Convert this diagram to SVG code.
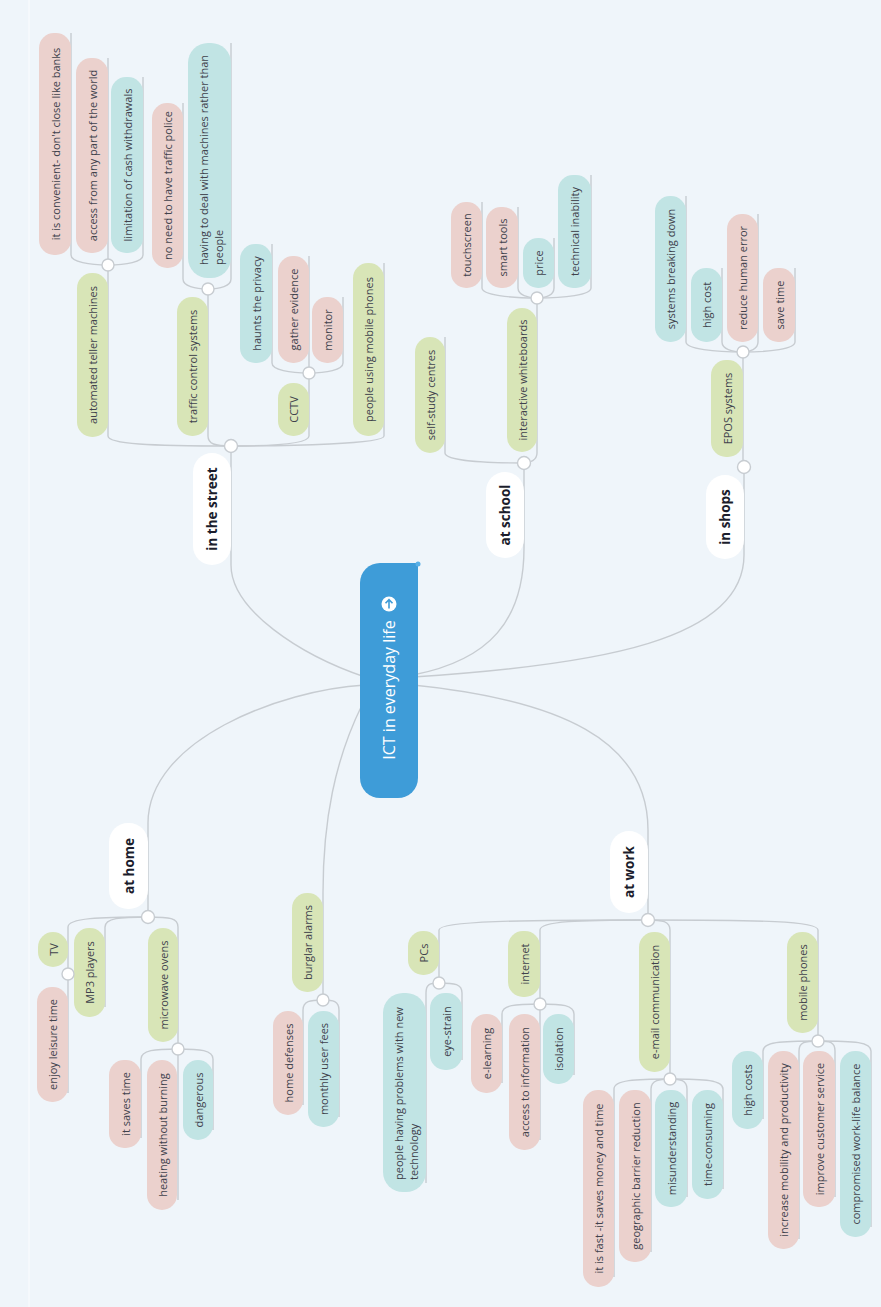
<svg xmlns="http://www.w3.org/2000/svg" width="881" height="1307" viewBox="0 0 881 1307">
<style>
.bg{fill:#eff5fa}
.ln{fill:none;stroke:#c7ccd1;stroke-width:1.4}
.jc{fill:#ffffff;stroke:#c7ccd1;stroke-width:1.4}
.g{fill:#d8e5b7}
.p{fill:#ebd1cd}
.t{fill:#c1e4e4}
.w{fill:#ffffff}
text{font-family:"Open Sans","Liberation Sans",sans-serif;dominant-baseline:central}
.s{font-size:11px;fill:#40424c;text-anchor:middle}
.s2{font-size:11px;fill:#40424c;text-anchor:start}
.m{font-size:13.5px;font-weight:bold;fill:#1b1d2c;text-anchor:middle}
.r{font-size:16px;fill:#ffffff;text-anchor:middle}
</style>
<rect class="bg" x="0" y="0" width="881" height="1307"/>
<line x1="29" y1="0" x2="29" y2="1307" stroke="#f8fbfd" stroke-width="1.2"/>

<g id="connectors">
<!-- root to main branches -->
<path class="ln" d="M365,677 C300,655 231,610 231,565 V446"/>
<path class="ln" d="M413,675 C490,660 524,620 524,548 V463"/>
<path class="ln" d="M413,677 C600,665 744,640 744,555 V467"/>
<path class="ln" d="M413,685 C560,700 648,740 648,830 V920"/>
<path class="ln" d="M365,685 C280,690 148,740 148,823 V917"/>
<path class="ln" d="M362,705 C335,760 323,820 323,893 V1000"/>
<!-- in the street -->
<path class="ln" d="M108,265 V436 C108,444 150,446 231,446"/>
<path class="ln" d="M208,289 V436 C208,444 215,446 231,446"/>
<path class="ln" d="M309,373 V436 C309,444 270,446 231,446"/>
<path class="ln" d="M384,263 V436 C384,444 290,446 231,446"/>
<path class="ln" d="M71,33 V255 C71,262 90,265 108,265"/>
<path class="ln" d="M108,58 V265"/>
<path class="ln" d="M143,77 V255 C143,262 126,265 108,265"/>
<path class="ln" d="M183,103 V279 C183,286 195,289 208,289"/>
<path class="ln" d="M231,43 V279 C231,286 220,289 208,289"/>
<path class="ln" d="M272,244 V363 C272,370 290,373 309,373"/>
<path class="ln" d="M309,256 V373"/>
<path class="ln" d="M343,297 V363 C343,370 326,373 309,373"/>
<!-- at school -->
<path class="ln" d="M445,337 V453 C445,460 480,463 524,463"/>
<path class="ln" d="M537,298 V453 C537,460 530,463 524,463"/>
<path class="ln" d="M482,202 V288 C482,295 510,298 537,298"/>
<path class="ln" d="M518,207 V288 C518,295 528,298 537,298"/>
<path class="ln" d="M554,238 V288 C554,295 546,298 537,298"/>
<path class="ln" d="M591,175 V288 C591,295 565,298 537,298"/>
<!-- in shops -->
<path class="ln" d="M743,352 V467"/>
<path class="ln" d="M686,196 V342 C686,349 715,352 743,352"/>
<path class="ln" d="M722,268 V342 C722,349 732,352 743,352"/>
<path class="ln" d="M758,214 V342 C758,349 750,352 743,352"/>
<path class="ln" d="M795,268 V342 C795,349 770,352 743,352"/>
<!-- at home -->
<path class="ln" d="M148,917 C100,917 68,918 68,927 V974"/>
<path class="ln" d="M148,917 C120,917 105,918 105,927 V1007"/>
<path class="ln" d="M148,917 C170,917 178,918 178,927 V1049"/>
<path class="ln" d="M68,974 V1093"/>
<path class="ln" d="M178,1049 C155,1049 141,1050 141,1059 V1138"/>
<path class="ln" d="M178,1049 V1200"/>
<path class="ln" d="M178,1049 C200,1049 213,1050 213,1059 V1130"/>
<!-- burglar alarms -->
<path class="ln" d="M323,1000 C310,1000 303,1001 303,1010 V1105"/>
<path class="ln" d="M323,1000 C333,1000 339,1001 339,1010 V1117"/>
<!-- at work -->
<path class="ln" d="M648,920 C520,920 439,921 439,930 V983"/>
<path class="ln" d="M648,920 C580,920 540,921 540,930 V1004"/>
<path class="ln" d="M648,920 C662,920 670,921 670,930 V1079"/>
<path class="ln" d="M648,920 C760,920 818,921 818,930 V1041"/>
<path class="ln" d="M439,983 C430,983 426,984 426,993 V1183"/>
<path class="ln" d="M439,983 C455,983 462,984 462,993 V1060"/>
<path class="ln" d="M540,1004 C515,1004 502,1005 502,1014 V1083"/>
<path class="ln" d="M540,1004 V1140"/>
<path class="ln" d="M540,1004 C562,1004 574,1005 574,1014 V1075"/>
<path class="ln" d="M670,1079 C635,1079 614,1080 614,1089 V1277"/>
<path class="ln" d="M670,1079 C660,1079 651,1080 651,1089 V1252"/>
<path class="ln" d="M670,1079 C680,1079 687,1080 687,1089 V1197"/>
<path class="ln" d="M670,1079 C705,1079 723,1080 723,1089 V1189"/>
<path class="ln" d="M818,1041 C780,1041 763,1042 763,1051 V1119"/>
<path class="ln" d="M818,1041 C805,1041 799,1042 799,1051 V1239"/>
<path class="ln" d="M818,1041 C830,1041 835,1042 835,1051 V1197"/>
<path class="ln" d="M818,1041 C855,1041 871,1042 871,1051 V1227"/>
</g>

<g id="root">
<path d="M380,563 H418 V778 A20,20 0 0 1 398,798 H380 A20,20 0 0 1 360,778 V583 A20,20 0 0 1 380,563 Z" fill="#3e9cd8"/>
<circle cx="418" cy="564" r="2.5" fill="#5ab0e6"/>
<text class="r" x="389" y="690" transform="rotate(-90 389 690)">ICT in everyday life</text>
<circle cx="389" cy="604" r="7.5" fill="#ffffff"/>
<path d="M389,608.5 V600 M385.5,603.3 L389,599.6 L392.5,603.3" fill="none" stroke="#3e9cd8" stroke-width="1.6"/>
</g>

<!-- in the street -->
<g id="in-the-street"><rect class="w" x="193" y="453" width="38" height="112" rx="19"/><text class="m" x="212" y="509" transform="rotate(-90 212 509)">in the street</text></g>
<g id="atm"><rect class="g" x="77" y="273" width="31" height="164" rx="15"/><text class="s" x="92.5" y="355" transform="rotate(-90 92.5 355)">automated teller machines</text></g>
<g id="atm-1"><rect class="p" x="39" y="33" width="32" height="222" rx="15"/><text class="s" x="55" y="144" transform="rotate(-90 55 144)">it is convenient- don't close like banks</text></g>
<g id="atm-2"><rect class="p" x="76" y="58" width="32" height="195" rx="15"/><text class="s" x="92" y="155.5" transform="rotate(-90 92 155.5)">access from any part of the world</text></g>
<g id="atm-3"><rect class="t" x="111" y="77" width="32" height="176" rx="15"/><text class="s" x="127" y="165" transform="rotate(-90 127 165)">limitation of cash withdrawals</text></g>
<g id="traffic"><rect class="g" x="177" y="297" width="31" height="139" rx="15"/><text class="s" x="192.5" y="366.5" transform="rotate(-90 192.5 366.5)">traffic control systems</text></g>
<g id="traffic-1"><rect class="p" x="152" y="103" width="31" height="165" rx="15"/><text class="s" x="167.5" y="185.5" transform="rotate(-90 167.5 185.5)">no need to have traffic police</text></g>
<g id="traffic-2"><rect class="t" x="188" y="43" width="43" height="235" rx="20"/><text class="s2" x="203" y="265" transform="rotate(-90 203 265)">having to deal with machines rather than</text><text class="s2" x="218" y="265" transform="rotate(-90 218 265)">people</text></g>
<g id="cctv"><rect class="g" x="278" y="383" width="31" height="53" rx="15"/><text class="s" x="293.5" y="409.5" transform="rotate(-90 293.5 409.5)">CCTV</text></g>
<g id="cctv-1"><rect class="t" x="240" y="244" width="32" height="119" rx="15"/><text class="s" x="256" y="303.5" transform="rotate(-90 256 303.5)">haunts the privacy</text></g>
<g id="cctv-2"><rect class="p" x="278" y="256" width="31" height="107" rx="15"/><text class="s" x="293.5" y="309.5" transform="rotate(-90 293.5 309.5)">gather evidence</text></g>
<g id="cctv-3"><rect class="p" x="312" y="297" width="31" height="66" rx="15"/><text class="s" x="327.5" y="330" transform="rotate(-90 327.5 330)">monitor</text></g>
<g id="mobile-users"><rect class="g" x="353" y="263" width="31" height="173" rx="15"/><text class="s" x="368.5" y="349.5" transform="rotate(-90 368.5 349.5)">people using mobile phones</text></g>

<!-- at school -->
<g id="at-school"><rect class="w" x="486" y="472" width="38" height="86" rx="19"/><text class="m" x="505" y="515" transform="rotate(-90 505 515)">at school</text></g>
<g id="self-study"><rect class="g" x="415" y="337" width="30" height="116" rx="15"/><text class="s" x="430" y="395" transform="rotate(-90 430 395)">self-study centres</text></g>
<g id="whiteboards"><rect class="g" x="507" y="308" width="30" height="144" rx="15"/><text class="s" x="522" y="380" transform="rotate(-90 522 380)">interactive whiteboards</text></g>
<g id="wb-1"><rect class="p" x="451" y="202" width="31" height="86" rx="15"/><text class="s" x="466.5" y="245" transform="rotate(-90 466.5 245)">touchscreen</text></g>
<g id="wb-2"><rect class="p" x="486" y="207" width="32" height="81" rx="15"/><text class="s" x="502" y="247.5" transform="rotate(-90 502 247.5)">smart tools</text></g>
<g id="wb-3"><rect class="t" x="523" y="238" width="31" height="50" rx="15"/><text class="s" x="538.5" y="263" transform="rotate(-90 538.5 263)">price</text></g>
<g id="wb-4"><rect class="t" x="558" y="175" width="33" height="113" rx="15"/><text class="s" x="574.5" y="231.5" transform="rotate(-90 574.5 231.5)">technical inability</text></g>

<!-- in shops -->
<g id="in-shops"><rect class="w" x="706" y="475" width="38" height="84" rx="19"/><text class="m" x="725" y="517" transform="rotate(-90 725 517)">in shops</text></g>
<g id="epos"><rect class="g" x="711" y="360" width="32" height="97" rx="15"/><text class="s" x="727" y="408.5" transform="rotate(-90 727 408.5)">EPOS systems</text></g>
<g id="epos-1"><rect class="t" x="655" y="196" width="31" height="146" rx="15"/><text class="s" x="670.5" y="269" transform="rotate(-90 670.5 269)">systems breaking down</text></g>
<g id="epos-2"><rect class="t" x="691" y="268" width="31" height="74" rx="15"/><text class="s" x="706.5" y="305" transform="rotate(-90 706.5 305)">high cost</text></g>
<g id="epos-3"><rect class="p" x="727" y="214" width="31" height="128" rx="15"/><text class="s" x="742.5" y="278" transform="rotate(-90 742.5 278)">reduce human error</text></g>
<g id="epos-4"><rect class="p" x="763" y="268" width="32" height="74" rx="15"/><text class="s" x="779" y="305" transform="rotate(-90 779 305)">save time</text></g>

<!-- at home -->
<g id="at-home"><rect class="w" x="109" y="823" width="39" height="86" rx="19"/><text class="m" x="128.5" y="866" transform="rotate(-90 128.5 866)">at home</text></g>
<g id="tv"><rect class="g" x="38" y="932" width="30" height="35" rx="15"/><text class="s" x="53" y="949.5" transform="rotate(-90 53 949.5)">TV</text></g>
<g id="tv-1"><rect class="p" x="37" y="987" width="31" height="115" rx="15"/><text class="s" x="52.5" y="1044.5" transform="rotate(-90 52.5 1044.5)">enjoy leisure time</text></g>
<g id="mp3"><rect class="g" x="74" y="928" width="31" height="89" rx="15"/><text class="s" x="89.5" y="972.5" transform="rotate(-90 89.5 972.5)">MP3 players</text></g>
<g id="microwave"><rect class="g" x="148" y="928" width="30" height="114" rx="15"/><text class="s" x="163" y="985" transform="rotate(-90 163 985)">microwave ovens</text></g>
<g id="mw-1"><rect class="p" x="109" y="1060" width="32" height="88" rx="15"/><text class="s" x="125" y="1104" transform="rotate(-90 125 1104)">it saves time</text></g>
<g id="mw-2"><rect class="p" x="147" y="1060" width="30" height="150" rx="15"/><text class="s" x="162" y="1135" transform="rotate(-90 162 1135)">heating without burning</text></g>
<g id="mw-3"><rect class="t" x="183" y="1060" width="30" height="80" rx="15"/><text class="s" x="198" y="1100" transform="rotate(-90 198 1100)">dangerous</text></g>

<!-- burglar alarms -->
<g id="burglar"><rect class="g" x="292" y="893" width="31" height="99" rx="15"/><text class="s" x="307.5" y="942.5" transform="rotate(-90 307.5 942.5)">burglar alarms</text></g>
<g id="burglar-1"><rect class="p" x="273" y="1011" width="30" height="104" rx="15"/><text class="s" x="288" y="1063" transform="rotate(-90 288 1063)">home defenses</text></g>
<g id="burglar-2"><rect class="t" x="308" y="1011" width="31" height="116" rx="15"/><text class="s" x="323.5" y="1069" transform="rotate(-90 323.5 1069)">monthly user fees</text></g>

<!-- at work -->
<g id="at-work"><rect class="w" x="610" y="831" width="38" height="82" rx="19"/><text class="m" x="629" y="872" transform="rotate(-90 629 872)">at work</text></g>
<g id="pcs"><rect class="g" x="408" y="931" width="31" height="44" rx="15"/><text class="s" x="423.5" y="953" transform="rotate(-90 423.5 953)">PCs</text></g>
<g id="pcs-1"><rect class="t" x="383" y="993" width="43" height="199" rx="20"/><text class="s2" x="398" y="1180" transform="rotate(-90 398 1180)">people having problems with new</text><text class="s2" x="413" y="1180" transform="rotate(-90 413 1180)">technology</text></g>
<g id="pcs-2"><rect class="t" x="430" y="993" width="32" height="77" rx="15"/><text class="s" x="446" y="1031.5" transform="rotate(-90 446 1031.5)">eye-strain</text></g>
<g id="internet"><rect class="g" x="508" y="931" width="32" height="66" rx="15"/><text class="s" x="524" y="964" transform="rotate(-90 524 964)">internet</text></g>
<g id="internet-1"><rect class="p" x="471" y="1014" width="31" height="79" rx="15"/><text class="s" x="486.5" y="1053.5" transform="rotate(-90 486.5 1053.5)">e-learning</text></g>
<g id="internet-2"><rect class="p" x="509" y="1014" width="31" height="136" rx="15"/><text class="s" x="524.5" y="1082" transform="rotate(-90 524.5 1082)">access to information</text></g>
<g id="internet-3"><rect class="t" x="543" y="1014" width="31" height="70" rx="15"/><text class="s" x="558.5" y="1049" transform="rotate(-90 558.5 1049)">isolation</text></g>
<g id="email"><rect class="g" x="639" y="932" width="31" height="140" rx="15"/><text class="s" x="654.5" y="1002" transform="rotate(-90 654.5 1002)">e-mail communication</text></g>
<g id="email-1"><rect class="p" x="583" y="1090" width="31" height="197" rx="15"/><text class="s" x="598.5" y="1188.5" transform="rotate(-90 598.5 1188.5)">it is fast -it saves money and time</text></g>
<g id="email-2"><rect class="p" x="619" y="1090" width="32" height="172" rx="15"/><text class="s" x="635" y="1176" transform="rotate(-90 635 1176)">geographic barrier reduction</text></g>
<g id="email-3"><rect class="t" x="655" y="1090" width="32" height="117" rx="15"/><text class="s" x="671" y="1148.5" transform="rotate(-90 671 1148.5)">misunderstanding</text></g>
<g id="email-4"><rect class="t" x="692" y="1090" width="31" height="109" rx="15"/><text class="s" x="707.5" y="1144.5" transform="rotate(-90 707.5 1144.5)">time-consuming</text></g>
<g id="mobile"><rect class="g" x="787" y="932" width="31" height="101" rx="15"/><text class="s" x="802.5" y="982.5" transform="rotate(-90 802.5 982.5)">mobile phones</text></g>
<g id="mobile-1"><rect class="t" x="732" y="1051" width="31" height="78" rx="15"/><text class="s" x="747.5" y="1090" transform="rotate(-90 747.5 1090)">high costs</text></g>
<g id="mobile-2"><rect class="p" x="768" y="1051" width="31" height="198" rx="15"/><text class="s" x="783.5" y="1150" transform="rotate(-90 783.5 1150)">increase mobility and productivity</text></g>
<g id="mobile-3"><rect class="p" x="803" y="1051" width="32" height="156" rx="15"/><text class="s" x="819" y="1129" transform="rotate(-90 819 1129)">improve customer service</text></g>
<g id="mobile-4"><rect class="t" x="840" y="1051" width="31" height="186" rx="15"/><text class="s" x="855.5" y="1144" transform="rotate(-90 855.5 1144)">compromised work-life balance</text></g>

<g id="junctions">
<circle class="jc" cx="231" cy="446" r="6.5"/>
<circle class="jc" cx="108" cy="265" r="6"/>
<circle class="jc" cx="208" cy="289" r="6"/>
<circle class="jc" cx="309" cy="373" r="6"/>
<circle class="jc" cx="524" cy="463" r="6.5"/>
<circle class="jc" cx="537" cy="298" r="6"/>
<circle class="jc" cx="744" cy="467" r="6.5"/>
<circle class="jc" cx="743" cy="352" r="6"/>
<circle class="jc" cx="148" cy="917" r="6.5"/>
<circle class="jc" cx="68" cy="974" r="6"/>
<circle class="jc" cx="178" cy="1049" r="6"/>
<circle class="jc" cx="323" cy="1000" r="6"/>
<circle class="jc" cx="648" cy="920" r="6.5"/>
<circle class="jc" cx="439" cy="983" r="6"/>
<circle class="jc" cx="540" cy="1004" r="6"/>
<circle class="jc" cx="670" cy="1079" r="6"/>
<circle class="jc" cx="818" cy="1041" r="6"/>
</g>
</svg>
